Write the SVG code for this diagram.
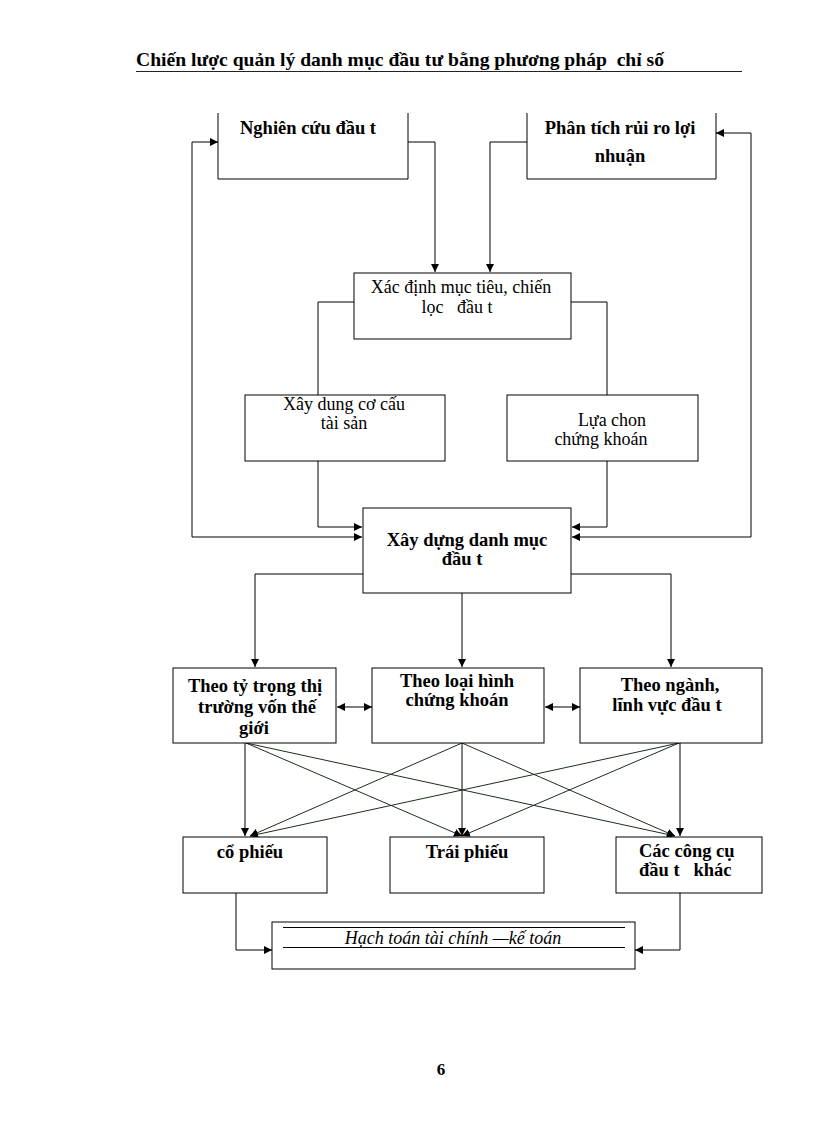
<svg xmlns="http://www.w3.org/2000/svg" width="816" height="1123" viewBox="0 0 816 1123">
<defs>
<marker id="ah" viewBox="0 0 10 10" refX="10" refY="5" markerWidth="8" markerHeight="8" markerUnits="userSpaceOnUse" orient="auto-start-reverse">
<path d="M0,0 L10,5 L0,10 z" fill="#000"/>
</marker>
<style>
.box{fill:#fff;stroke:#000;stroke-width:1}
.ln{fill:none;stroke:#000;stroke-width:1}
.x{fill:none;stroke:#1c2e1c;stroke-width:1}
.b{font-family:"Liberation Serif","Times New Roman",serif;font-weight:bold;font-size:18.5px;fill:#000;white-space:pre}
.r{font-family:"Liberation Serif","Times New Roman",serif;font-size:18px;fill:#000;white-space:pre}
.i{font-family:"Liberation Serif","Times New Roman",serif;font-style:italic;font-size:18px;fill:#000;white-space:pre}
.m{text-anchor:middle}
</style>
</defs>
<rect width="816" height="1123" fill="#fff"/>
<g id="header">
<text class="b" x="136" y="66" textLength="528" lengthAdjust="spacingAndGlyphs" style="font-size:19px">Chiến lược quản lý danh mục đầu tư bằng phương pháp  chỉ số</text>
<line x1="136" y1="71.5" x2="742" y2="71.5" stroke="#222" stroke-width="1.2"/>
</g>
<g id="connectors">
<polyline class="ln" points="218,142 192,142 192,537 362,537" marker-start="url(#ah)" marker-end="url(#ah)"/>
<polyline class="ln" points="716,133 751,133 751,537 572,537" marker-start="url(#ah)" marker-end="url(#ah)"/>
<polyline class="ln" points="408,142 435,142 435,272" marker-end="url(#ah)"/>
<polyline class="ln" points="527,142 490,142 490,272" marker-end="url(#ah)"/>
<polyline class="ln" points="354,302 318,302 318,395"/>
<polyline class="ln" points="571,302 607,302 607,395"/>
<polyline class="ln" points="318,461 318,527 362,527" marker-end="url(#ah)"/>
<polyline class="ln" points="607,461 607,527 572,527" marker-end="url(#ah)"/>
<polyline class="ln" points="363,574 255,574 255,667" marker-end="url(#ah)"/>
<polyline class="ln" points="462,593 462,667" marker-end="url(#ah)"/>
<polyline class="ln" points="571,574 671,574 671,667" marker-end="url(#ah)"/>
<line class="ln" x1="337" y1="707" x2="372" y2="707" marker-start="url(#ah)" marker-end="url(#ah)"/>
<line class="ln" x1="545" y1="707" x2="580" y2="707" marker-start="url(#ah)" marker-end="url(#ah)"/>
<line class="ln" x1="245" y1="743" x2="245" y2="836" marker-end="url(#ah)"/>
<line class="ln" x1="462" y1="743" x2="462" y2="836" marker-end="url(#ah)"/>
<line class="ln" x1="680" y1="743" x2="680" y2="836" marker-end="url(#ah)"/>
<line class="x" x1="246" y1="743" x2="462" y2="836" marker-end="url(#ah)"/>
<line class="x" x1="246" y1="743" x2="675" y2="836" marker-end="url(#ah)"/>
<line class="x" x1="462" y1="743" x2="250" y2="836" marker-end="url(#ah)"/>
<line class="x" x1="462" y1="743" x2="675" y2="836" marker-end="url(#ah)"/>
<line class="x" x1="679" y1="743" x2="250" y2="836" marker-end="url(#ah)"/>
<line class="x" x1="679" y1="743" x2="462" y2="836" marker-end="url(#ah)"/>
<polyline class="ln" points="236,893 236,950 272,950" marker-end="url(#ah)"/>
<polyline class="ln" points="680,893 680,950 635,950" marker-end="url(#ah)"/>
</g>
<g id="n-nghiencuu">
<path class="box" d="M218,113 V179 H408 V113"/>
<text class="b m" x="308" y="134">Nghiên cứu đầu t</text>
</g>
<g id="n-phantich">
<path class="box" d="M527,113 V179 H716 V113"/>
<text class="b m" x="620" y="134">Phân tích rủi ro lợi</text>
<text class="b m" x="620" y="162">nhuận</text>
</g>
<g id="n-xacdinh">
<rect class="box" x="354" y="273" width="217" height="66"/>
<text class="r m" x="461" y="293">Xác định mục tiêu, chiến</text>
<text class="r m" x="457" y="313">lọc   đầu t</text>
</g>
<g id="n-xaydungcocau">
<rect class="box" x="245" y="395" width="200" height="66"/>
<text class="r m" x="344" y="410">Xây dung cơ cấu</text>
<text class="r m" x="344" y="429">tài sản</text>
</g>
<g id="n-luachon">
<rect class="box" x="507" y="395" width="191" height="66"/>
<text class="r m" x="612" y="426">Lựa chon</text>
<text class="r m" x="601" y="445">chứng khoán</text>
</g>
<g id="n-xaydungdanhmuc">
<rect class="box" x="363" y="508" width="208" height="85"/>
<text class="b m" x="467" y="546">Xây dựng danh mục</text>
<text class="b m" x="462" y="565">đầu t</text>
</g>
<g id="n-tytrong">
<rect class="box" x="173" y="668" width="163" height="75"/>
<text class="b m" x="255" y="692">Theo tỷ trọng thị</text>
<text class="b m" x="257" y="713">trường vốn thế</text>
<text class="b m" x="254" y="734">giới</text>
</g>
<g id="n-loaihinh">
<rect class="box" x="372" y="668" width="172" height="75"/>
<text class="b m" x="457" y="687">Theo loại hình</text>
<text class="b m" x="457" y="706">chứng khoán</text>
</g>
<g id="n-nganh">
<rect class="box" x="580" y="668" width="182" height="75"/>
<text class="b m" x="670" y="691">Theo ngành,</text>
<text class="b m" x="667" y="711">lĩnh vực đầu t</text>
</g>
<g id="n-cophieu">
<rect class="box" x="183" y="837" width="144" height="56"/>
<text class="b m" x="250" y="858">cổ phiếu</text>
</g>
<g id="n-traiphieu">
<rect class="box" x="390" y="837" width="154" height="56"/>
<text class="b m" x="467" y="858">Trái phiếu</text>
</g>
<g id="n-congcu">
<rect class="box" x="616" y="837" width="146" height="56"/>
<text class="b" x="639" y="857">Các công cụ</text>
<text class="b" x="639" y="876">đầu t   khác</text>
</g>
<g id="n-hachtoan">
<rect class="box" x="272" y="922" width="363" height="47"/>
<line class="ln" x1="283" y1="927.5" x2="625" y2="927.5"/>
<line class="ln" x1="283" y1="947.5" x2="625" y2="947.5"/>
<text class="i m" x="453" y="944">Hạch toán tài chính —kế toán</text>
</g>
<g id="pagenum">
<text class="b m" x="441" y="1075" style="font-size:17px">6</text>
</g>
</svg>
